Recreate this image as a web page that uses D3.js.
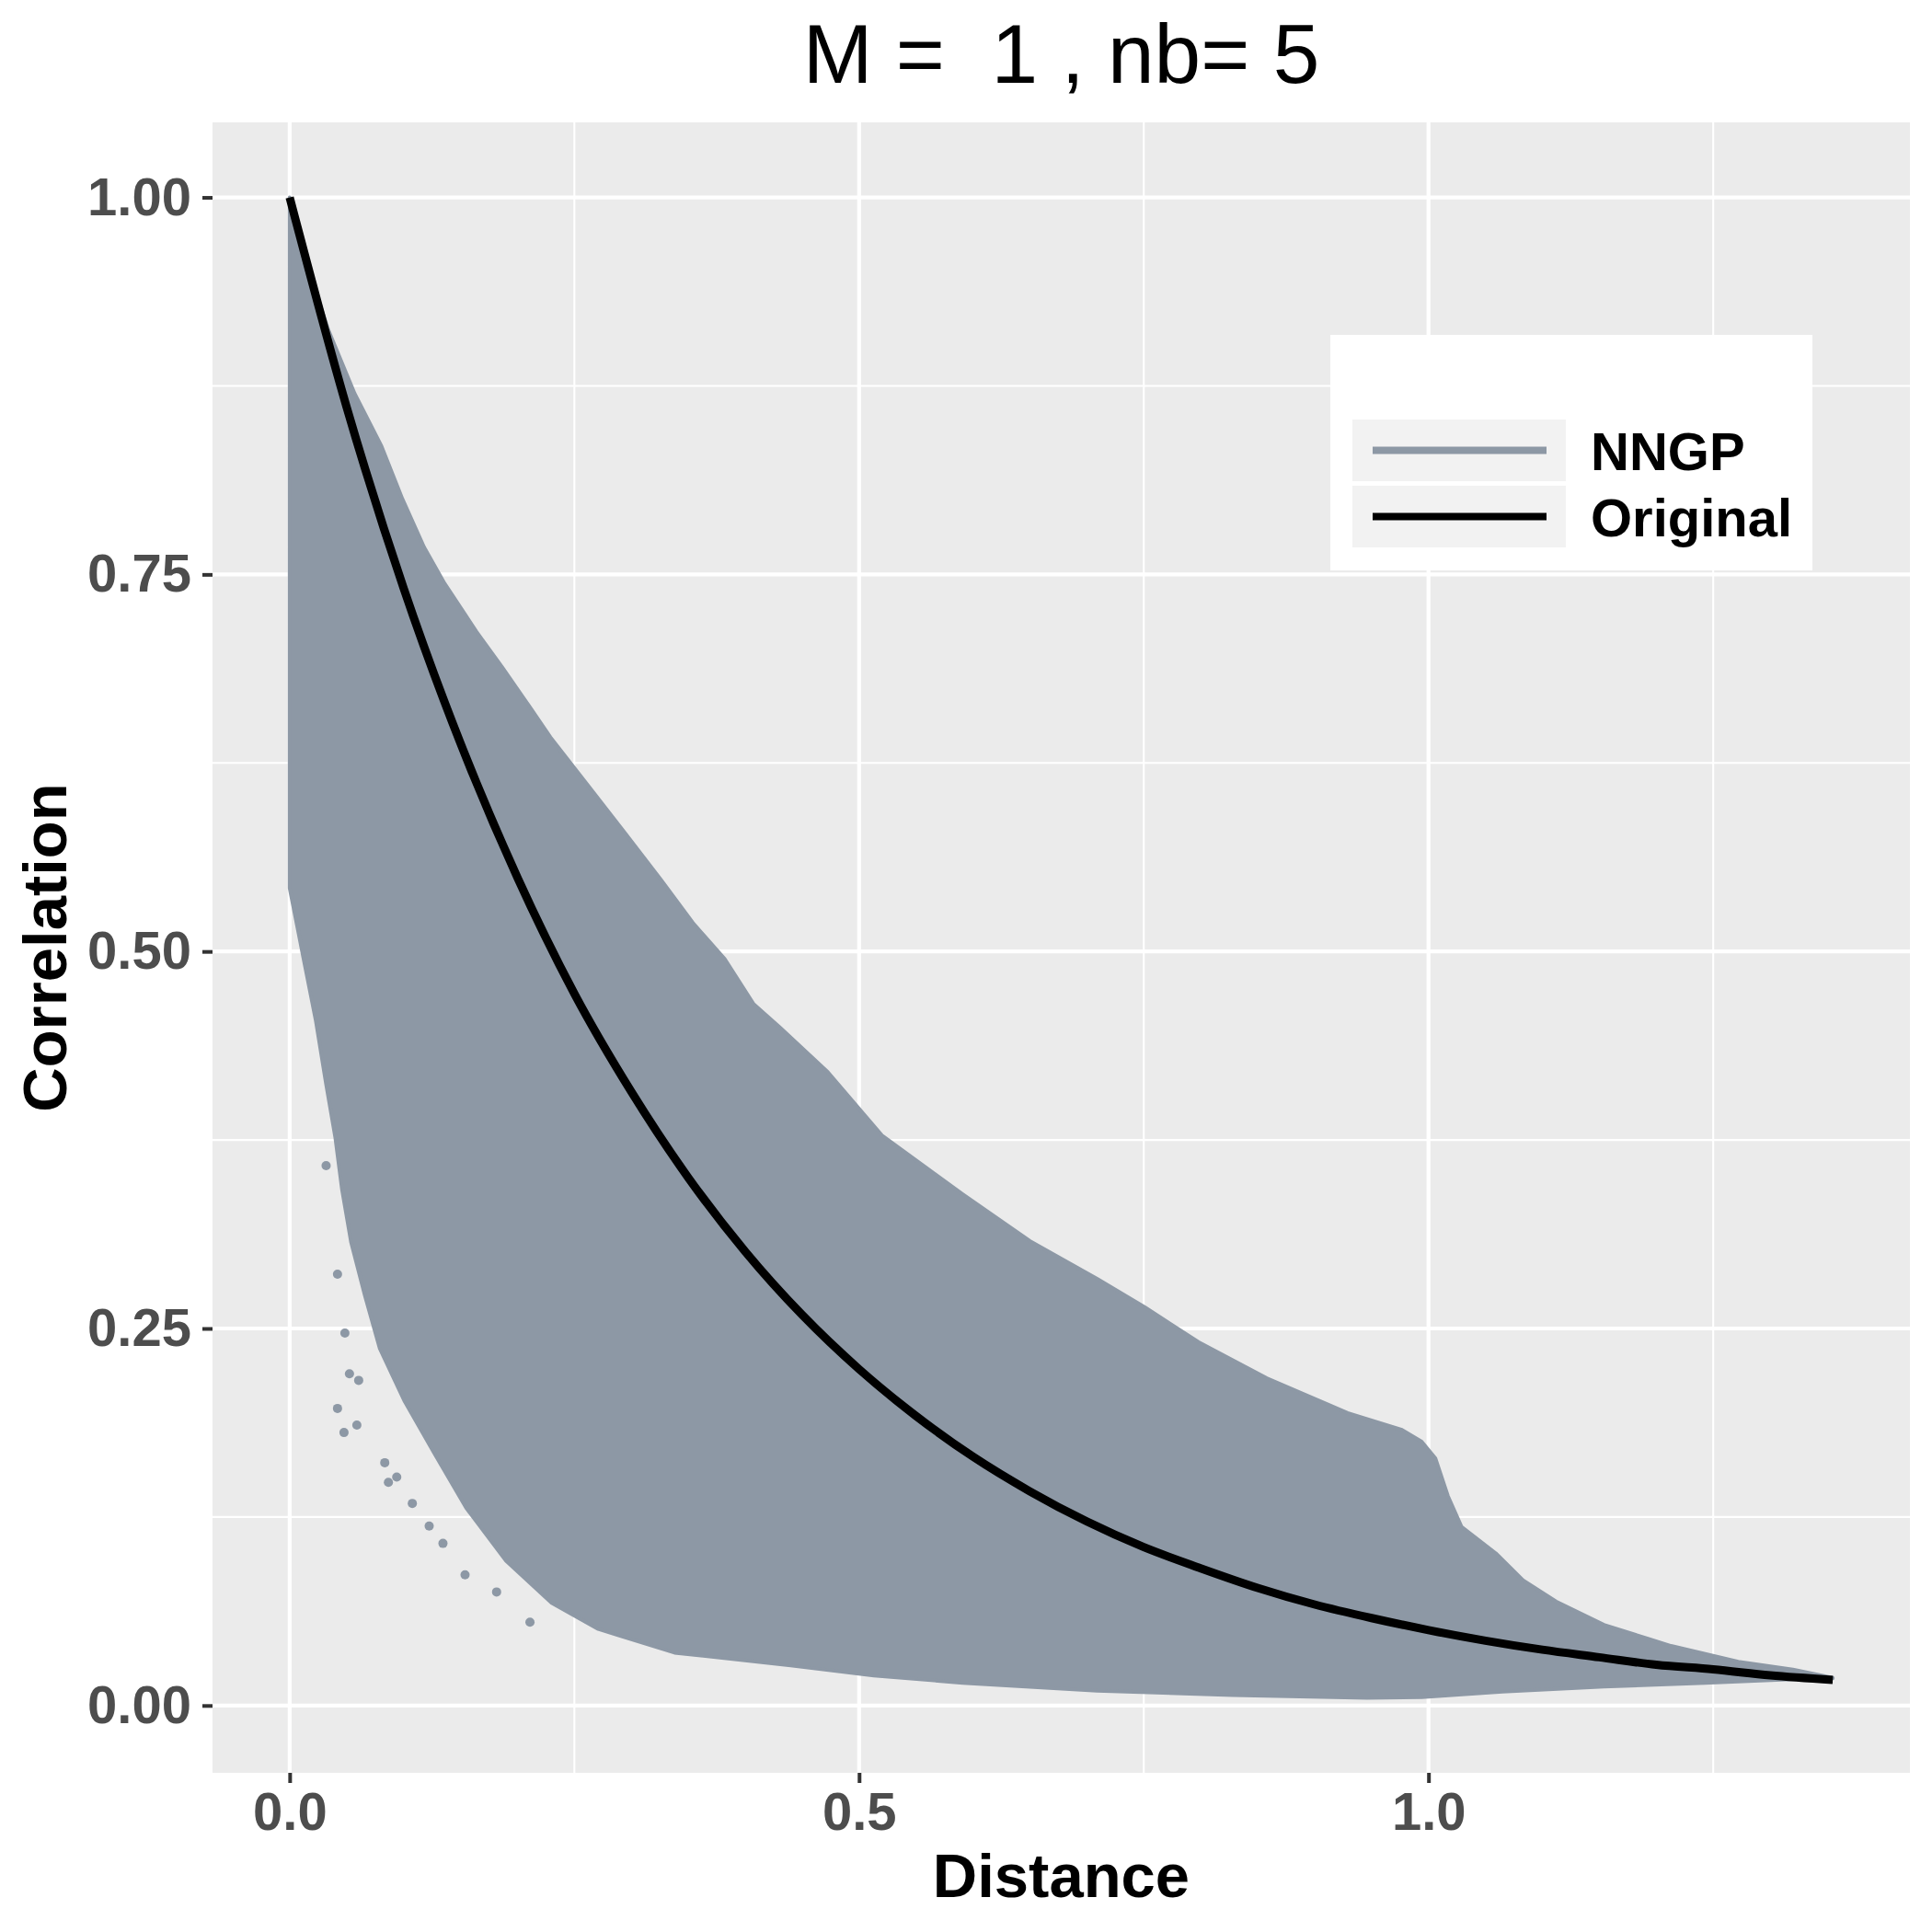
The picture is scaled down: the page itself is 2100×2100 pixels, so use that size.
<!DOCTYPE html>
<meta charset="utf-8">
<head>
  <script src="https://d3js.org/d3.v7.min.js"></script>
  <style>
    body { margin: 0; background: #fff; font-family: 'Liberation Sans', Arial, sans-serif; }
  </style>
</head>
<body>
<div id="chart"></div>
<script>
// "Original" correlation curve
const origDist = [0, 0.05, 0.1, 0.15, 0.2, 0.25, 0.3, 0.35, 0.4, 0.45, 0.5, 0.55, 0.6, 0.65, 0.7,
  0.75, 0.8, 0.85, 0.9, 0.95, 1.0, 1.05, 1.1, 1.15, 1.2, 1.25, 1.3, 1.355]
const origCorr = [1, 0.861, 0.741, 0.638, 0.549, 0.472, 0.407, 0.35, 0.301, 0.259, 0.223, 0.192, 0.165,
  0.142, 0.122, 0.105, 0.091, 0.078, 0.067, 0.058, 0.05, 0.043, 0.037, 0.032, 0.027, 0.024, 0.02, 0.017]

// NNGP point cloud: too dense to read point by point, so its outline (upper / lower edge)
const cloudUpperDist = [0, 0.0157, 0.034, 0.057, 0.0806, 0.099, 0.118, 0.136, 0.164, 0.187, 0.21, 0.229,
  0.261, 0.294, 0.326, 0.354, 0.382, 0.4075, 0.43, 0.4725, 0.52, 0.591, 0.65, 0.709, 0.751, 0.798, 0.858,
  0.929, 0.976, 0.994, 1.006, 1.017, 1.029, 1.059, 1.083, 1.112, 1.154, 1.213, 1.272, 1.32, 1.355]
const cloudUpperCorr = [1, 0.954, 0.912, 0.87, 0.835, 0.8, 0.768, 0.744, 0.712, 0.688, 0.663, 0.642,
  0.611, 0.579, 0.5475, 0.519, 0.495, 0.465, 0.45, 0.42, 0.378, 0.339, 0.308, 0.283, 0.264, 0.241, 0.217,
  0.194, 0.183, 0.175, 0.164, 0.139, 0.1185, 0.101, 0.083, 0.069, 0.0535, 0.0395, 0.029, 0.0238, 0.0184]
const cloudLowerDist = [1.355, 1.32, 1.243, 1.154, 1.065, 0.994, 0.946, 0.828, 0.709, 0.591, 0.513, 0.44,
  0.338, 0.271, 0.23, 0.19, 0.155, 0.128, 0.101, 0.079, 0.066, 0.054, 0.046, 0.04, 0.032, 0.023, 0.012, 0]
const cloudLowerCorr = [0.018, 0.0174, 0.015, 0.0125, 0.0092, 0.0055, 0.0051, 0.0069, 0.0098, 0.015, 0.0199,
  0.0265, 0.035, 0.0507, 0.068, 0.096, 0.131, 0.166, 0.2016, 0.237, 0.272, 0.307, 0.342, 0.377, 0.412,
  0.454, 0.496, 0.542]
// stray points outside the cloud's lower edge
const strayDist = [0.032, 0.042, 0.0485, 0.0525, 0.042, 0.0477, 0.059, 0.0606, 0.0835, 0.0867, 0.094,
  0.1077, 0.1225, 0.1346, 0.154, 0.1817, 0.211]
const strayCorr = [0.358, 0.286, 0.247, 0.22, 0.197, 0.181, 0.186, 0.2156, 0.161, 0.148, 0.1515,
  0.134, 0.119, 0.1075, 0.0867, 0.0753, 0.0553]

const xTicks = [0, 0.5, 1.0]
const xMinor = [0.25, 0.75, 1.25]
const yTicks = [0, 0.25, 0.5, 0.75, 1.0]
const yMinor = [0.125, 0.375, 0.625, 0.875]
const legendLabels = ["NNGP", "Original"]
const legendColors = ["#8d98a5", "#000000"]

const W = 2100, H = 2100
const panel = { left: 231, right: 2076, top: 133, bottom: 1927 }
const cloudColor = "#8d98a5"

// ggplot-like 5% expansion
function expand(ext) { const s = ext[1] - ext[0]; return [ext[0] - 0.05 * s, ext[1] + 0.05 * s] }
const xExt = d3.extent([...cloudUpperDist, ...cloudLowerDist, ...origDist])
const yExt = d3.extent([...cloudUpperCorr, ...cloudLowerCorr, ...origCorr])

const x = d3.scaleLinear().domain(expand(xExt)).range([panel.left, panel.right])
const y = d3.scaleLinear().domain(expand(yExt)).range([panel.bottom, panel.top])

const svg = d3.select("#chart").append("svg")
  .attr("width", W).attr("height", H)
  .attr("viewBox", `0 0 ${W} ${H}`)
  .style("font-family", "'Liberation Sans', Arial, sans-serif")

svg.append("rect").attr("width", W).attr("height", H).attr("fill", "#fff")

// panel
svg.append("rect")
  .attr("x", panel.left).attr("y", panel.top)
  .attr("width", panel.right - panel.left).attr("height", panel.bottom - panel.top)
  .attr("fill", "#ebebeb")

const grid = svg.append("g")
grid.selectAll(".ymin").data(yMinor).enter().append("line")
  .attr("x1", panel.left).attr("x2", panel.right)
  .attr("y1", d => y(d)).attr("y2", d => y(d))
  .attr("stroke", "#fff").attr("stroke-width", 2.1)
grid.selectAll(".xmin").data(xMinor).enter().append("line")
  .attr("y1", panel.top).attr("y2", panel.bottom)
  .attr("x1", d => x(d)).attr("x2", d => x(d))
  .attr("stroke", "#fff").attr("stroke-width", 2.1)
grid.selectAll(".ymaj").data(yTicks).enter().append("line")
  .attr("x1", panel.left).attr("x2", panel.right)
  .attr("y1", d => y(d)).attr("y2", d => y(d))
  .attr("stroke", "#fff").attr("stroke-width", 4.2)
grid.selectAll(".xmaj").data(xTicks).enter().append("line")
  .attr("y1", panel.top).attr("y2", panel.bottom)
  .attr("x1", d => x(d)).attr("x2", d => x(d))
  .attr("stroke", "#fff").attr("stroke-width", 4.2)

// NNGP cloud
const outline = d3.zip(cloudUpperDist, cloudUpperCorr).concat(d3.zip(cloudLowerDist, cloudLowerCorr))
svg.append("path")
  .datum(outline)
  .attr("d", d3.line().x(d => x(d[0])).y(d => y(d[1])).curve(d3.curveLinearClosed))
  .attr("fill", cloudColor)
  .attr("stroke", cloudColor)
  .attr("stroke-width", 4)
  .attr("stroke-linejoin", "round")

svg.selectAll(".stray").data(d3.zip(strayDist, strayCorr)).enter().append("circle")
  .attr("cx", d => x(d[0])).attr("cy", d => y(d[1]))
  .attr("r", 5).attr("fill", cloudColor)

// Original curve
svg.append("path")
  .datum(d3.zip(origDist, origCorr))
  .attr("d", d3.line().x(d => x(d[0])).y(d => y(d[1])).curve(d3.curveMonotoneX))
  .attr("fill", "none")
  .attr("stroke", "#000")
  .attr("stroke-width", 9)
  .attr("stroke-linecap", "butt")

// axes
const xAxis = svg.append("g")
  .attr("transform", `translate(0,${panel.bottom})`)
  .call(d3.axisBottom(x).tickValues(xTicks).tickFormat(d3.format(".1f")).tickSize(11).tickPadding(10))
const yAxis = svg.append("g")
  .attr("transform", `translate(${panel.left},0)`)
  .call(d3.axisLeft(y).tickValues(yTicks).tickFormat(d3.format(".2f")).tickSize(11).tickPadding(12))

;[xAxis, yAxis].forEach(a => {
  a.select(".domain").remove()
  a.selectAll(".tick line").attr("stroke", "#333").attr("stroke-width", 4)
  a.selectAll(".tick text")
    .attr("fill", "#4d4d4d")
    .style("font-size", "58px")
    .style("font-weight", "bold")
    .style("font-family", "'Liberation Sans', Arial, sans-serif")
})

// titles
svg.append("text")
  .attr("x", (panel.left + panel.right) / 2).attr("y", 90)
  .attr("text-anchor", "middle")
  .style("font-size", "91px")
  .style("white-space", "pre")
  .attr("xml:space", "preserve")
  .text("M =  1 , nb= 5")

svg.append("text")
  .attr("x", (panel.left + panel.right) / 2).attr("y", 2062)
  .attr("text-anchor", "middle")
  .style("font-size", "67px").style("font-weight", "bold")
  .text("Distance")

svg.append("text")
  .attr("transform", `translate(72,${(panel.top + panel.bottom) / 2}) rotate(-90)`)
  .attr("text-anchor", "middle")
  .style("font-size", "67px").style("font-weight", "bold")
  .text("Correlation")

// legend
const lg = svg.append("g").attr("transform", "translate(1446,364)")
lg.append("rect").attr("width", 524).attr("height", 256).attr("fill", "#fff")
const rows = lg.selectAll(".row").data(legendLabels).enter().append("g")
  .attr("transform", (d, i) => `translate(24,${92 + i * 72})`)
rows.append("rect").attr("width", 232).attr("height", 67).attr("fill", "#f2f2f2")
rows.append("line")
  .attr("x1", 22).attr("x2", 211).attr("y1", 33.5).attr("y2", 33.5)
  .attr("stroke", (d, i) => legendColors[i]).attr("stroke-width", 8)
rows.append("text")
  .attr("x", 259).attr("y", 55)
  .style("font-size", "58px").style("font-weight", "bold")
  .text(d => d)
</script>
</body>
